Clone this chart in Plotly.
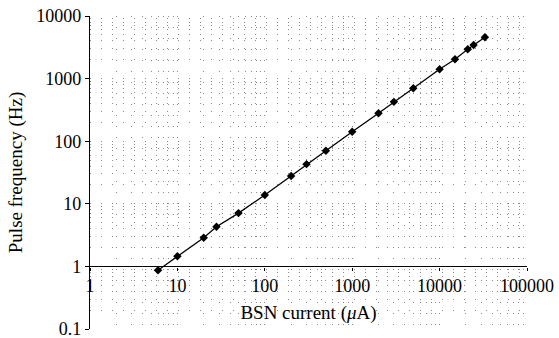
import plotly.graph_objects as go

# Data
current_uA = [6, 10, 20, 28, 50, 100, 200, 300, 500, 1000, 2000, 3000, 5000, 10000, 15000, 21000, 24500, 33000]
pulse_hz = [0.87, 1.45, 2.87, 4.3, 7.1, 13.8, 27.8, 43, 70.5, 142, 279, 425, 700, 1410, 2040, 2940, 3440, 4570]

x_ticks = [1, 10, 100, 1000, 10000, 100000]
x_tick_labels = ["1", "10", "100", "1000", "10000", "100000"]
y_ticks = [0.1, 1, 10, 100, 1000, 10000]
y_tick_labels = ["0.1", "1", "10", "100", "1000", "10000"]

FONT = "Liberation Serif"
GRID = "#8c8c8c"
DASH = "1px,10px"

fig = go.Figure()
fig.add_trace(go.Scatter(
    x=current_uA, y=pulse_hz, mode="lines+markers",
    line=dict(color="black", width=1.3),
    marker=dict(symbol="diamond", size=6.5, color="black"),
    showlegend=False,
))

fig.update_layout(
    width=559, height=338,
    margin=dict(l=90, r=32, t=16, b=9),
    paper_bgcolor="white", plot_bgcolor="white",
    font=dict(family=FONT, size=18, color="black"),
    xaxis=dict(
        type="log", range=[0, 5],
        tickvals=x_ticks, ticktext=x_tick_labels,
        anchor="free", position=0.2, automargin=False,
        ticklabeloverflow="allow",
        showline=True, linecolor="black", linewidth=1.3,
        ticks="outside", ticklen=3, tickcolor="black",
        showgrid=True, gridcolor=GRID, gridwidth=0.7, griddash=DASH,
        minor=dict(dtick="D1", showgrid=True, gridcolor=GRID, gridwidth=0.7, griddash=DASH, ticks=""),
        zeroline=False,
        title=dict(text="BSN current (<i>μ</i>A)", font=dict(family=FONT, size=19), standoff=10),
        tickfont=dict(family=FONT, size=18),
    ),
    yaxis=dict(
        type="log", range=[-1, 4], automargin=False,
        ticklabeloverflow="allow",
        tickvals=y_ticks, ticktext=y_tick_labels,
        showline=True, linecolor="black", linewidth=1.3,
        ticks="outside", ticklen=4, tickcolor="black",
        showgrid=True, gridcolor=GRID, gridwidth=0.7, griddash=DASH,
        minor=dict(dtick="D1", showgrid=True, gridcolor=GRID, gridwidth=0.7, griddash=DASH, ticks=""),
        zeroline=False,
        title=dict(text="Pulse frequency (Hz)", font=dict(family=FONT, size=19), standoff=8),
        tickfont=dict(family=FONT, size=18),
    ),
)

fig.write_html("out.html")
